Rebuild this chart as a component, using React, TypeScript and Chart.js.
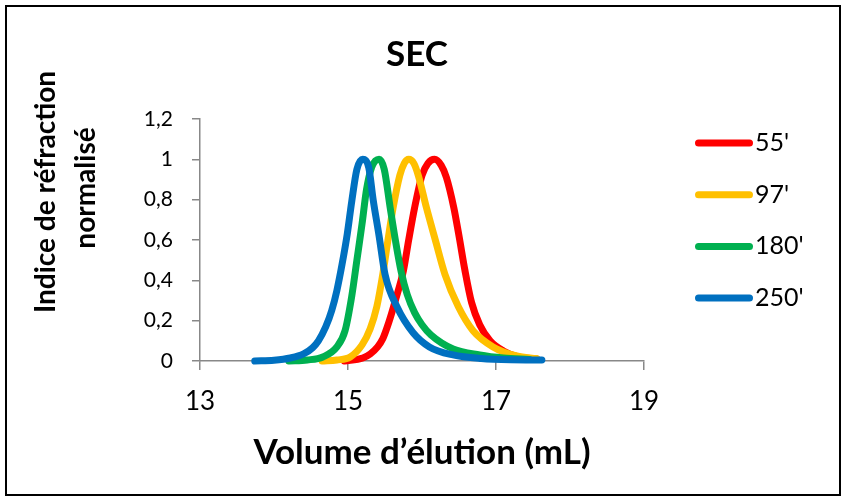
import React, { useEffect, useRef } from 'react';
import { Chart, registerables } from 'chart.js';

Chart.register(...registerables);

const chartTitle = 'SEC';
const xAxisTitle = 'Volume d’élution (mL)';
const yAxisTitle = ['Indice de réfraction', 'normalisé'];

const seriesNames = ["55'", "97'", "180'", "250'"];
const seriesColors = ['#FF0000', '#FFC000', '#00B050', '#0070C0'];

const x55 = [14.95, 15.2, 15.3, 15.4, 15.47, 15.55, 15.64, 15.75, 15.82, 15.9, 16.0, 16.08, 16.17, 16.26, 16.33, 16.43, 16.5, 16.58, 16.67, 16.78, 16.92, 17.1, 17.3, 17.55];
const y55 = [0, 0.015, 0.035, 0.07, 0.11, 0.19, 0.3, 0.45, 0.6, 0.76, 0.92, 0.98, 1.0, 0.97, 0.91, 0.76, 0.62, 0.45, 0.29, 0.18, 0.1, 0.05, 0.02, 0.01];

const x97 = [14.65, 14.85, 15.03, 15.19, 15.3, 15.39, 15.47, 15.54, 15.61, 15.7, 15.76, 15.82, 15.89, 15.95, 16.06, 16.18, 16.31, 16.49, 16.69, 16.96, 17.28, 17.55];
const y97 = [0, 0.005, 0.02, 0.08, 0.16, 0.27, 0.43, 0.6, 0.76, 0.92, 0.98, 1.0, 0.98, 0.92, 0.76, 0.6, 0.43, 0.27, 0.15, 0.07, 0.025, 0.012];

const x180 = [14.2, 14.45, 14.66, 14.85, 14.96, 15.05, 15.12, 15.19, 15.25, 15.32, 15.42, 15.49, 15.57, 15.64, 15.72, 15.8, 15.9, 16.0, 16.12, 16.42, 16.78, 17.1, 17.45];
const y180 = [0, 0.005, 0.02, 0.07, 0.15, 0.32, 0.5, 0.68, 0.85, 0.96, 1.0, 0.95, 0.76, 0.6, 0.44, 0.33, 0.24, 0.18, 0.13, 0.06, 0.03, 0.015, 0.008];

const x250 = [13.74, 14.0, 14.22, 14.4, 14.52, 14.6, 14.7, 14.78, 14.85, 14.92, 14.99, 15.05, 15.12, 15.2, 15.28, 15.34, 15.42, 15.5, 15.66, 15.88, 16.1, 16.42, 16.8, 17.2, 17.62];
const y250 = [0, 0.004, 0.015, 0.035, 0.065, 0.1, 0.17, 0.25, 0.35, 0.48, 0.63, 0.79, 0.95, 1.0, 0.96, 0.8, 0.62, 0.43, 0.27, 0.14, 0.07, 0.03, 0.012, 0.006, 0.005];

const xTickValues = [13, 15, 17, 19];
const xTickLabels = ['13', '15', '17', '19'];
const yTickValues = [0, 0.2, 0.4, 0.6, 0.8, 1, 1.2];
const yTickLabels = ['0', '0,2', '0,4', '0,6', '0,8', '1', '1,2'];

const seriesX = [x55, x97, x180, x250];
const seriesY = [y55, y97, y180, y250];

const FONT = 'Lato, "Open Sans", sans-serif';

const textPlugin = {
  id: 'extraTexts',
  afterDraw(chart: any) {
    const ctx = chart.ctx as CanvasRenderingContext2D;
    const a = chart.chartArea;
    ctx.save();
    ctx.fillStyle = '#000';
    ctx.textAlign = 'center';
    ctx.textBaseline = 'middle';
    ctx.font = `bold 35px ${FONT}`;
    ctx.fillText(chartTitle, 417, 55);
    ctx.font = `bold 35px ${FONT}`;
    ctx.fillText(xAxisTitle, (a.left + a.right) / 2, 453);
    // y title
    ctx.save();
    ctx.rotate(-Math.PI / 2);
    ctx.font = `bold 28px ${FONT}`;
    ctx.fillText(yAxisTitle[0], -192, 46);
    ctx.fillText(yAxisTitle[1], -188, 86);
    ctx.restore();
    // legend
    chart.data.datasets.forEach((ds: any, i: number) => {
      const y = 143 + i * 51.7;
      ctx.strokeStyle = ds.borderColor;
      ctx.lineWidth = 7;
      ctx.lineCap = 'round';
      ctx.beginPath();
      ctx.moveTo(698.5, y);
      ctx.lineTo(749.5, y);
      ctx.stroke();
      ctx.fillStyle = '#000';
      ctx.textAlign = 'left';
      ctx.font = `25px ${FONT}`;
      ctx.fillText(ds.label, 755, y);
    });
    ctx.restore();
  },
};

export default function App() {
  const ref = useRef<HTMLCanvasElement | null>(null);
  useEffect(() => {
    if (!ref.current) return;
    Chart.defaults.font.family = FONT;
    const datasets = seriesNames.map((name, i) => ({
      label: name,
      data: seriesX[i].map((x, j) => ({ x, y: seriesY[i][j] })),
      borderColor: seriesColors[i],
      backgroundColor: seriesColors[i],
      borderWidth: 7,
      pointRadius: 0,
      tension: 0.4,
      cubicInterpolationMode: 'monotone' as const,
      borderCapStyle: 'round' as const,
      borderJoinStyle: 'round' as const,
      fill: false,
      clip: false as const,
      order: seriesNames.length - i,
    }));
    const chart = new Chart(ref.current, {
      type: 'line',
      data: { datasets },
      options: {
        animation: false,
        responsive: false,
        maintainAspectRatio: false,
        layout: { padding: { left: 0, top: 119, right: 201, bottom: 78 } },
        plugins: { legend: { display: false }, title: { display: false }, tooltip: { enabled: false } },
        scales: {
          x: {
            type: 'linear',
            min: 13,
            max: 19,
            afterBuildTicks: (s: any) => { s.ticks = xTickValues.map((v) => ({ value: v })); },
            afterFit: (s: any) => { s.height = 60; },
            ticks: {
              callback: (_v: any, i: number) => xTickLabels[i],
              color: '#000',
              font: { size: 26, family: FONT },
              padding: 16,
              maxRotation: 0,
            },
            grid: { drawOnChartArea: false, drawTicks: true, tickLength: 9, color: '#888', lineWidth: 1.5 },
            border: { display: true, color: '#888', width: 1.5 },
          },
          y: {
            type: 'linear',
            min: 0,
            max: 1.2,
            afterBuildTicks: (s: any) => { s.ticks = yTickValues.map((v) => ({ value: v })); },
            afterFit: (s: any) => { s.width = 200; },
            ticks: {
              callback: (_v: any, i: number) => yTickLabels[i],
              color: '#000',
              font: { size: 21, family: FONT },
              padding: 19,
            },
            grid: { drawOnChartArea: false, drawTicks: true, tickLength: 8, color: '#888', lineWidth: 1.5 },
            border: { display: true, color: '#888', width: 1.5 },
          },
        },
      },
      plugins: [textPlugin],
    });
    return () => chart.destroy();
  }, []);
  return (
    <div style={{ position: 'fixed', left: 0, top: 0, width: 845, height: 499, background: '#fff' }}>
      <canvas ref={ref} width={845} height={499} style={{ width: 845, height: 499, display: 'block' }} />
      <div style={{ position: 'absolute', left: 5, top: 5, width: 836, height: 491, border: '2px solid #000', boxSizing: 'border-box', pointerEvents: 'none' }} />
    </div>
  );
}
